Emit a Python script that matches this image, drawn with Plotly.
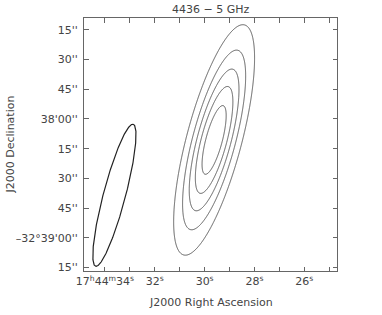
import numpy as np
import plotly.graph_objects as go

# ---- data ----
title_text = "4436 − 5 GHz"
dec0_deg = -(32 + 38/60)               # reference declination (-32°38'00'')

# RA axis (seconds of 17h44m), Dec axis (arcsec offset from -32°38'00'')
ra_range = [34.84, 24.69]
dec_range = [-76.7, 50.9]
ra_tickvals = [34, 32, 30, 28, 26]
ra_ticktext = ["17<sup>h</sup>44<sup>m</sup>34<sup>s</sup>", "32<sup>s</sup>",
               "30<sup>s</sup>", "28<sup>s</sup>", "26<sup>s</sup>"]
ra_minor_tickvals = [33, 31, 29, 27, 25]
dec_tickvals = [45, 30, 15, 0, -15, -30, -45, -60, -75]
dec_ticktext = ["15''", "30''", "45''", "38'00''", "15''", "30''", "45''",
                "–32°39'00''", "15''"]

# fitted source (elliptical Gaussian)
src_ra = 29.62          # s
src_dec = -10.6         # arcsec offset
src_fwhm_maj = 75.2     # arcsec
src_fwhm_min = 17.5     # arcsec
src_pa = -14.9          # deg (N through E)
src_peak = 5.85         # relative units
levels = [1, 2, 3, 4, 5]

# restoring beam
beam_ra = 33.62
beam_dec = -38.5
beam_maj = 74.1         # arcsec (FWHM)
beam_min = 11.2
beam_pa = -14.9

# ---- build model image ----
cosd = np.cos(np.radians(dec0_deg))
ra = np.linspace(ra_range[0], ra_range[1], 400)
dec = np.linspace(dec_range[0], dec_range[1], 400)
RA, DEC = np.meshgrid(ra, dec)
east = (RA - src_ra) * 15 * cosd
north = DEC - src_dec
pa = np.radians(src_pa)
u = east * np.sin(pa) + north * np.cos(pa)
v = east * np.cos(pa) - north * np.sin(pa)
k = 2 * np.sqrt(2 * np.log(2))
s_maj = src_fwhm_maj / k
s_min = src_fwhm_min / k
Z = src_peak * np.exp(-(u**2 / (2 * s_maj**2) + v**2 / (2 * s_min**2)))

# beam ellipse outline
t = np.linspace(0, 2 * np.pi, 361)
bpa = np.radians(beam_pa)
a, b = beam_maj / 2, beam_min / 2
bu = a * np.cos(t)
bv = b * np.sin(t)
b_east = bu * np.sin(bpa) + bv * np.cos(bpa)
b_north = bu * np.cos(bpa) - bv * np.sin(bpa)
beam_x = beam_ra + b_east / (15 * cosd)
beam_y = beam_dec + b_north

fig = go.Figure()
fig.add_trace(go.Contour(
    x=ra, y=dec, z=Z,
    contours=dict(coloring="lines", start=levels[0], end=levels[-1], size=1, showlabels=False),
    colorscale=[[0, "#5a5a5a"], [1, "#5a5a5a"]],
    line=dict(width=1, smoothing=1.3),
    showscale=False, hoverinfo="skip",
))
fig.add_trace(go.Scatter(
    x=beam_x, y=beam_y, mode="lines",
    line=dict(color="#222222", width=1.2), hoverinfo="skip", showlegend=False,
))

font = dict(family="DejaVu Sans", size=11, color="#444444")
axis_common = dict(
    showgrid=False, zeroline=False, showline=True, linecolor="#666666", linewidth=1,
    mirror="allticks", ticks="inside", ticklen=4.5, tickcolor="#666666", tickwidth=1,
    tickfont=font,
)
fig.update_layout(
    width=382, height=315,
    margin=dict(l=84, r=45, t=18, b=44),
    paper_bgcolor="white", plot_bgcolor="white",
    showlegend=False, font=font,
    xaxis=dict(range=ra_range, tickmode="array", tickvals=ra_tickvals, ticktext=ra_ticktext,
               minor=dict(tickmode="array", tickvals=ra_minor_tickvals, ticks="inside",
                          ticklen=4.5, tickcolor="#666666", tickwidth=1, showgrid=False),
               **axis_common),
    yaxis=dict(range=dec_range, tickmode="array", tickvals=dec_tickvals, ticktext=dec_ticktext,
               ticklabelstandoff=3, **axis_common),
    annotations=[
        dict(text=title_text, x=0.5, y=1 + 8 / 253, xref="paper", yref="paper",
             xanchor="center", yanchor="middle", showarrow=False, font=font),
        dict(text="J2000 Right Ascension", x=0.5, y=(271 - 302) / 253, xref="paper", yref="paper",
             xanchor="center", yanchor="middle", showarrow=False, font=font),
        dict(text="J2000 Declination", x=(10 - 84) / 253, y=0.5, xref="paper", yref="paper",
             xanchor="center", yanchor="middle", textangle=-90, showarrow=False, font=font),
    ],
)
fig.write_html("out.html", config={"displayModeBar": False},
               post_script="document.body.style.margin='0';document.body.style.padding='0';")
